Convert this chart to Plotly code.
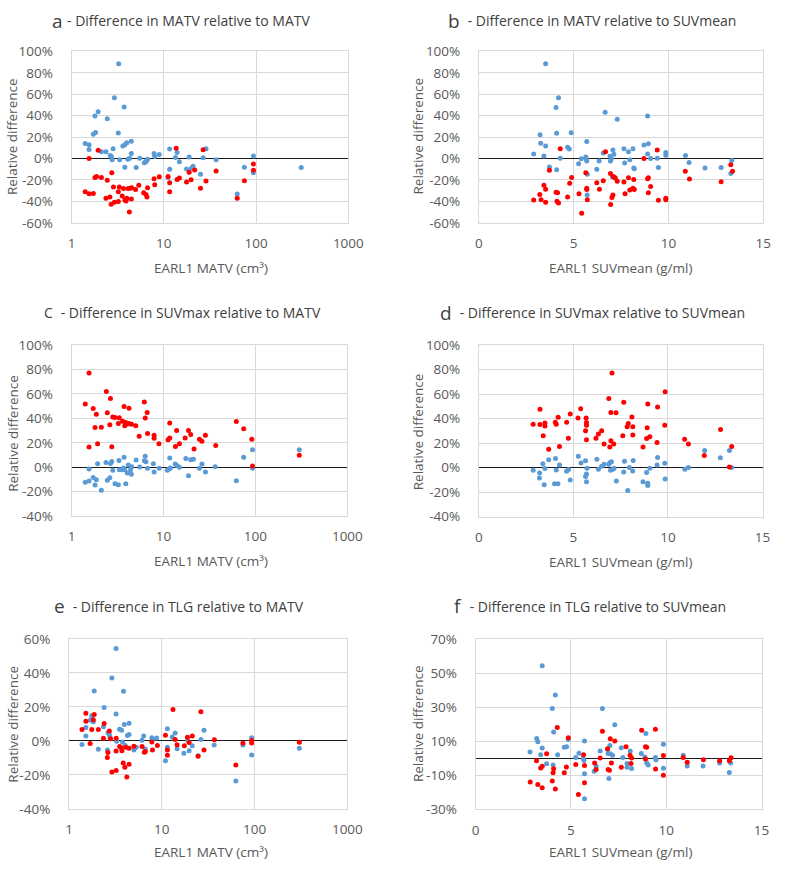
import plotly.graph_objects as go

BLUE = "#5B9BD5"
RED = "#FF0000"
FONT = "Open Sans"

# ---------------- Panel a : MATV difference vs EARL1 MATV ----------------
A_BLUE_X = [1.406, 1.549, 1.549, 1.722, 1.822, 1.793, 1.944, 2.108, 2.362, 2.440, 2.624, 2.711, 2.755, 2.823,
            2.916, 3.241, 3.214, 3.321, 3.600, 3.719, 3.780, 3.780, 3.969, 4.067, 4.269, 4.446, 4.446, 5.021,
            5.489, 6.147, 6.402, 6.560, 6.667, 7.843, 7.970, 8.928, 11.57, 11.57, 11.11, 13.39, 13.95, 14.76,
            17.64, 18.82, 19.92, 20.75, 25.0, 26.68, 28.69, 36.89, 62.5, 74.7, 93.7, 93.7, 308.7]
A_BLUE_Y = [14.0, 12.8, 8.5, 22.6, 24.4, 39.6, 43.6, 6.4, 6.4, 37.2, 2.7, 1.8, -1.2, 9.1, 56.7, 88.4, 23.8, -1.2,
            11.6, 48.2, 12.8, -8.2, 14.6, -0.6, 0.3, 16.2, 4.6, -8.5, 0.3, -4.0, -3.0, -1.5, -0.6, 4.6, 1.8, 3.7,
            8.8, -10.1, -17.7, 0.9, 5.5, -3.0, -9.8, 1.5, -9.1, -7.3, -14.6, 0.6, 9.1, -1.2, -33.2, -8.2, 2.4,
            -13.4, -8.5]
A_RED_X = [1.406, 1.549, 1.549, 1.722, 1.793, 1.867, 1.944, 2.108, 2.362, 2.440, 2.604, 2.689, 2.733, 2.846,
           2.916, 3.214, 3.214, 3.294, 3.542, 3.659, 3.780, 3.905, 3.969, 4.100, 4.304, 4.446, 4.482, 4.235,
           4.941, 5.357, 6.048, 6.402, 6.560, 6.667, 7.843, 7.970, 8.928, 11.11, 11.57, 11.57, 13.61, 13.95,
           14.76, 17.64, 18.82, 19.76, 21.60, 25.0, 26.68, 28.69, 36.89, 62.5, 74.7, 93.7, 93.7]
A_RED_Y = [-31.1, -32.9, 0.0, -32.6, -17.7, -16.8, 7.6, -17.7, -37.2, -20.4, -36.0, -42.7, -13.4, -26.5, -40.9,
           -40.2, -31.1, -26.5, -35.1, -28.0, -38.7, -39.6, -37.2, -28.0, -27.7, -37.8, -27.4, -50.0, -29.0,
           -25.0, -32.0, -33.5, -36.0, -27.4, -18.9, -24.4, -17.1, -16.8, -22.6, -31.1, 9.5, -19.5, -18.3,
           -22.0, -12.8, -19.8, -10.7, -27.7, 8.2, -21.0, -11.6, -37.2, -20.7, -5.2, -11.0]

# ---------------- Panel b : MATV difference vs EARL1 SUVmean ----------------
B_BLUE_X = [2.89, 3.23, 3.26, 3.52, 3.43, 3.52, 3.72, 4.07, 4.10, 4.10, 4.20, 4.29, 4.68, 4.77, 4.87, 5.26,
            5.40, 5.64, 5.67, 5.69, 5.69, 5.72, 5.71, 6.22, 6.34, 6.56, 6.66, 6.92, 6.94, 6.99, 7.04, 7.07,
            7.12, 7.18, 7.30, 7.65, 7.69, 7.89, 7.96, 8.13, 8.17, 8.20, 8.71, 8.90, 8.94, 8.90, 9.06, 9.41,
            9.47, 9.86, 9.86, 10.90, 11.09, 11.93, 12.78, 13.29, 13.34]
B_BLUE_Y = [4.3, 22.3, 14.3, 88.4, 2.4, 11.6, -7.9, 47.6, 23.5, -10.4, 56.7, 0.3, 10.4, 8.8, 24.1, -4.9, -0.3,
            1.5, -0.6, -2.4, 15.9, -14.6, -34.1, -10.1, -2.4, 5.2, 43.3, 2.1, -2.4, -0.3, -17.1, 7.9, 4.0,
            -17.7, 36.6, 9.1, -4.3, 6.4, -1.2, 9.1, -8.8, -9.5, 12.5, 39.6, 13.7, 4.3, 0.0, 0.3, -8.5, 5.5,
            3.0, 2.7, -3.7, -8.8, -8.5, -14.0, -1.8]
B_RED_X = [2.89, 3.21, 3.28, 3.43, 3.52, 3.52, 3.72, 4.07, 4.12, 4.20, 4.29, 4.15, 4.68, 4.79, 4.89, 5.28,
           5.42, 5.64, 5.69, 5.69, 5.72, 6.22, 6.36, 6.56, 6.68, 6.94, 6.95, 7.02, 7.07, 7.09, 7.19, 7.30,
           7.65, 7.71, 7.89, 7.96, 8.13, 8.17, 8.20, 8.71, 8.90, 8.94, 8.94, 9.06, 9.41, 9.47, 9.86, 9.86,
           10.89, 11.11, 12.78, 13.29, 13.38]
B_RED_Y = [-38.7, -33.5, -38.4, -25.0, -28.7, -40.9, -11.0, -31.4, -39.9, -41.5, 9.1, -32.0, -36.0, -23.2,
           -17.7, -32.9, -51.2, -13.4, -27.7, -29.0, -38.4, -22.6, -28.7, -20.7, 6.4, -14.0, -43.0, -36.3,
           -34.1, -16.8, -18.3, -21.3, -22.0, -32.9, -18.0, -29.3, -27.7, -19.5, -29.0, 0.0, -18.9, -18.0,
           -32.0, -26.2, 7.9, -39.0, -37.2, -38.4, -11.9, -19.2, -21.6, -5.8, -11.9]

# ---------------- Panel c : SUVmax difference vs EARL1 MATV ----------------
C_RED_X = [1.41, 1.55, 1.55, 1.72, 1.80, 1.86, 1.92, 2.11, 2.39, 2.45, 2.61, 2.65, 2.74, 2.81, 2.97, 3.23,
           3.31, 3.59, 3.73, 3.79, 3.89, 3.99, 4.22, 4.22, 4.50, 5.00, 5.44, 6.19, 6.33, 6.65, 6.71, 7.91,
           7.91, 8.92, 11.2, 11.7, 11.7, 13.5, 13.9, 14.9, 17.2, 18.7, 19.8, 21.5, 24.6, 26.2, 28.6, 37.0,
           62.0, 74.6, 91.4, 93.0, 300.0]
C_RED_Y = [51.8, 77.2, 16.5, 48.1, 32.5, 43.5, 19.2, 32.8, 62.0, 44.6, 34.7, 56.4, 16.8, 41.1, 40.8, 35.8,
           40.6, 37.6, 49.7, 33.9, 36.6, 35.2, 48.3, 35.8, 35.2, 33.9, 25.3, 53.4, 40.3, 44.9, 27.7, 26.1,
           23.7, 19.2, 22.4, 36.3, 24.0, 17.0, 30.1, 19.2, 24.0, 30.1, 26.9, 14.9, 22.9, 21.3, 26.1, 17.8,
           37.4, 31.5, 22.9, 1.0, 9.8]
C_BLUE_X = [1.41, 1.55, 1.55, 1.72, 1.80, 1.86, 1.92, 2.11, 2.37, 2.45, 2.61, 2.65, 2.74, 2.81, 2.97, 3.23,
            3.28, 3.31, 3.53, 3.67, 3.73, 3.79, 3.89, 4.05, 4.15, 4.39, 4.47, 4.50, 5.04, 5.51, 6.19, 6.33,
            6.44, 6.71, 7.76, 7.91, 8.98, 11.0, 11.5, 11.7, 11.9, 13.4, 14.1, 14.9, 17.5, 18.7, 19.8, 21.2,
            24.6, 26.2, 28.6, 36.5, 62.0, 74.6, 93.0, 93.0, 300.0]
C_BLUE_Y = [-12.4, -11.4, -1.4, -8.4, -14.6, -10.3, 2.8, -18.9, 3.9, -10.8, -8.7, 3.1, 4.7, -2.5, -13.5,
            -14.3, 5.5, -2.0, -2.0, -0.6, 8.2, -2.0, -13.5, -4.7, 1.8, -2.0, -5.7, 0.4, 5.8, 0.2, 5.2, 9.0,
            4.4, -0.9, 2.8, -3.9, -0.9, -2.5, -1.4, 7.6, -0.6, 2.6, 1.2, -0.1, 7.1, -7.1, 6.0, 6.6, -0.9,
            2.6, -3.9, 0.4, -11.1, 8.2, 14.3, -0.9, 14.3]

# ---------------- Panel d : SUVmax difference vs EARL1 SUVmean ----------------
D_RED_X = [2.87, 3.23, 3.23, 3.40, 3.49, 3.49, 3.69, 4.04, 4.09, 4.19, 4.26, 4.64, 4.73, 4.83, 5.24, 5.38,
           5.64, 5.67, 5.69, 5.69, 5.69, 6.19, 6.32, 6.49, 6.62, 6.87, 6.92, 6.98, 6.98, 7.04, 7.13, 7.25,
           7.61, 7.66, 7.84, 7.90, 8.09, 8.14, 8.14, 8.68, 8.87, 8.90, 8.93, 9.04, 9.42, 9.45, 9.83, 9.85,
           10.88, 11.08, 11.92, 12.78, 13.25, 13.37]
D_RED_Y = [35.5, 47.7, 35.2, 26.1, 36.5, 33.9, 14.9, 37.1, 35.5, 41.1, 17.3, 37.1, 24.0, 43.7, 40.5, 48.0,
           30.1, 40.5, 36.8, 34.7, 22.7, 24.0, 27.5, 30.1, 19.2, 56.5, 16.8, 45.1, 21.9, 77.3, 19.2, 44.8,
           26.1, 53.3, 33.3, 36.0, 41.3, 26.7, 33.3, 16.8, 23.7, 32.5, 52.0, 25.3, 20.5, 49.6, 34.7, 61.9,
           23.2, 19.2, 9.9, 31.2, 0.5, 17.3]
D_BLUE_X = [2.87, 3.21, 3.20, 3.38, 3.45, 3.49, 3.69, 4.00, 4.05, 4.09, 4.18, 4.26, 4.64, 4.74, 4.83, 5.26,
            5.40, 5.64, 5.64, 5.69, 5.69, 5.72, 6.24, 6.32, 6.49, 6.62, 6.87, 6.92, 6.96, 7.01, 7.08, 7.15,
            7.27, 7.66, 7.70, 7.87, 7.96, 8.13, 8.16, 8.68, 8.87, 8.93, 8.93, 9.04, 9.42, 9.45, 9.83, 9.85,
            10.89, 11.08, 11.94, 12.77, 13.25, 13.37]
D_BLUE_Y = [-2.1, -4.5, -8.5, 3.2, -14.1, -0.8, 6.4, -13.1, 7.5, -1.9, -13.1, 2.1, -2.9, -1.6, -10.1, 9.3,
            3.7, 5.6, -7.2, -5.3, -11.5, -0.5, 6.9, -1.3, 1.1, 2.7, 2.7, 4.0, -2.1, 4.8, -1.3, -0.5, -10.9,
            -3.5, 5.1, -18.7, 0.0, -2.7, 5.9, -11.5, -4.0, -12.8, -14.7, -0.5, 2.1, 8.3, 3.5, -9.3, -1.3,
            0.0, 13.9, 8.0, 13.9, 0.0]

# ---------------- Panel e : TLG difference vs EARL1 MATV ----------------
E_BLUE_X = [1.38, 1.52, 1.52, 1.69, 1.76, 1.83, 1.87, 2.07, 2.35, 2.39, 2.59, 2.63, 2.72, 2.76, 2.90, 3.22,
            3.22, 3.27, 3.51, 3.69, 3.78, 3.87, 3.94, 4.03, 4.26, 4.44, 4.44, 5.01, 5.30, 6.13, 6.38, 6.64,
            7.81, 7.94, 8.81, 10.95, 11.49, 11.49, 12.94, 13.93, 14.62, 17.3, 19.1, 19.7, 21.3, 24.7, 26.4,
            28.5, 36.7, 62.8, 74.9, 93.0, 93.0, 304.0]
E_BLUE_Y = [-2.1, 7.9, 2.9, 12.1, 14.8, 11.2, 29.4, -5.0, 8.3, 19.6, -5.4, 4.8, 3.7, 2.3, 37.1, 54.4, 15.8,
            -0.2, 6.9, 6.3, -0.6, 29.2, 9.6, -2.7, 3.1, 10.4, 3.7, -5.4, -3.7, 0.4, 2.9, -4.8, 1.9, 1.0, 1.7,
            -11.7, 7.1, -3.8, 2.3, 4.6, -4.6, -7.3, 0.4, -5.8, -2.9, -8.8, 0.8, 6.3, -2.5, -23.7, -2.5, 1.9,
            -8.3, -4.4]
E_RED_X = [1.38, 1.52, 1.52, 1.69, 1.76, 1.87, 1.83, 2.07, 2.35, 2.39, 2.59, 2.63, 2.72, 2.80, 2.90, 3.22,
           3.22, 3.22, 3.51, 3.66, 3.72, 3.84, 4.00, 4.20, 4.10, 4.44, 4.44, 5.01, 6.13, 6.49, 6.64, 7.81,
           7.94, 8.96, 10.95, 11.49, 11.49, 13.2, 13.93, 14.62, 17.5, 18.9, 19.7, 21.3, 24.6, 26.4, 28.5,
           36.9, 62.8, 74.9, 93.0, 93.0, 304.0]
E_RED_Y = [6.7, 16.2, 11.5, -1.5, 6.7, 15.6, 12.5, 6.7, 1.5, 10.2, -9.8, -6.9, 5.8, 1.3, -18.3, -17.5, 1.5,
           -6.0, -3.3, -4.0, -5.8, -13.1, -15.6, -21.2, -3.8, -13.8, -4.4, -3.1, -3.3, -6.7, -6.3, -0.6,
           -5.4, -2.7, 3.3, -8.5, -5.4, 18.5, 0.8, -2.3, -2.9, 2.1, -1.0, 2.9, -9.0, 17.1, -5.4, 0.6, -14.2,
           -1.3, 0.2, -1.3, -0.8]

# ---------------- Panel f : TLG difference vs EARL1 SUVmean ----------------
F_BLUE_X = [2.85, 3.20, 3.26, 3.41, 3.49, 3.49, 3.72, 4.02, 4.06, 4.09, 4.18, 4.30, 4.65, 4.77, 4.86, 5.25,
            5.42, 5.64, 5.68, 5.71, 5.71, 5.71, 6.22, 6.32, 6.53, 6.65, 6.92, 6.95, 6.99, 7.04, 7.07, 7.18,
            7.30, 7.64, 7.72, 7.94, 7.94, 8.11, 8.18, 8.69, 8.88, 8.93, 8.97, 9.05, 9.43, 9.46, 9.85, 9.85,
            10.89, 11.10, 11.93, 12.80, 13.31, 13.38]
F_BLUE_Y = [3.7, 11.6, 9.7, 2.0, 6.0, 54.3, -3.2, 29.2, -3.9, 15.4, 37.2, 2.0, 6.4, 6.8, 11.0, 0.5, 2.9,
            -0.1, -1.3, 10.2, -9.1, -23.7, -7.6, -4.7, 4.3, 29.2, 5.1, 2.8, -11.8, 7.5, 2.6, 1.8, 19.6, 6.2,
            0.5, -3.0, -5.3, 4.3, -6.0, 2.8, 0.7, 14.6, -2.6, -3.9, 0.5, -0.9, 8.3, -5.9, 1.8, -4.5, -4.5,
            -2.8, -8.4, -2.8]
F_RED_X = [2.86, 3.19, 3.26, 3.41, 3.49, 3.49, 3.72, 4.02, 4.06, 4.09, 4.18, 4.28, 4.65, 4.76, 4.86, 5.25,
           5.39, 5.66, 5.71, 5.71, 6.24, 6.32, 6.53, 6.65, 6.92, 6.95, 7.02, 7.06, 7.12, 7.30, 7.64, 7.89,
           8.10, 8.15, 8.18, 8.71, 8.91, 8.97, 8.91, 9.44, 9.43, 9.85, 9.85, 10.89, 11.10, 11.95, 12.80,
           13.31, 13.40]
F_RED_Y = [-13.9, -1.4, -15.4, -5.7, -4.7, -17.3, 2.6, -13.3, -8.5, -6.1, -18.1, 18.1, -8.5, -5.1, 12.1,
           -3.6, -21.3, 2.0, -4.3, -14.3, -2.8, -6.6, 0.1, 15.8, 5.6, -6.6, -7.0, 11.4, -2.8, 10.2, -5.3,
           6.8, 1.8, -3.0, 0.1, 16.4, 6.8, 6.4, -0.5, -6.3, 17.1, 1.6, -9.9, 0.5, -2.4, -0.9, -1.5, -1.5, 0.3]

# ---------------- Axis ticks / texts ----------------
LOG_TICKS = [1, 10, 100, 1000]
LOG_TICKTEXT = ["1", "10", "100", "1000"]
LIN_TICKS = [0, 5, 10, 15]
LIN_TICKTEXT = ["0", "5", "10", "15"]
Y_TICKS_AB = [-60, -40, -20, 0, 20, 40, 60, 80, 100]
Y_TICKTEXT_AB = ["-60%", "-40%", "-20%", "0%", "20%", "40%", "60%", "80%", "100%"]
Y_TICKS_CD = [-40, -20, 0, 20, 40, 60, 80, 100]
Y_TICKTEXT_CD = ["-40%", "-20%", "0%", "20%", "40%", "60%", "80%", "100%"]
Y_TICKS_E = [-40, -20, 0, 20, 40, 60]
Y_TICKTEXT_E = ["-40%", "-20%", "0%", "20%", "40%", "60%"]
Y_TICKS_F = [-30, -10, 10, 30, 50, 70]
Y_TICKTEXT_F = ["-30%", "-10%", "10%", "30%", "50%", "70%"]

TITLE_LETTERS = ["a", "b", "C", "d", "e", "f"]
TITLE_TEXTS = [
    "- Difference in MATV relative to MATV",
    " - Difference in MATV relative to SUVmean",
    " - Difference in SUVmax relative to MATV",
    " - Difference in SUVmax relative to SUVmean",
    " - Difference in TLG relative to MATV",
    " - Difference in TLG relative to SUVmean",
]
X_TITLE_MATV = "EARL1 MATV (cm³)"
X_TITLE_SUV = "EARL1 SUVmean (g/ml)"
Y_TITLE = "Relative difference"

W, H = 787, 870


def px(x):
    return x / W


def py(y):
    return 1 - y / H


# panel layout (pixel boxes: left, right, top, bottom)
panels = [
    dict(blue=(A_BLUE_X, A_BLUE_Y), red=(A_RED_X, A_RED_Y), log=True, yr=[-60, 100],
         yt=(Y_TICKS_AB, Y_TICKTEXT_AB), box=(69.3, 353.3, 43.3, 218.3)),
    dict(blue=(B_BLUE_X, B_BLUE_Y), red=(B_RED_X, B_RED_Y), log=False, yr=[-60, 100],
         yt=(Y_TICKS_AB, Y_TICKTEXT_AB), box=(487.3, 779.0, 43.3, 218.3)),
    dict(blue=(C_BLUE_X, C_BLUE_Y), red=(C_RED_X, C_RED_Y), log=True, yr=[-40, 100],
         yt=(Y_TICKS_CD, Y_TICKTEXT_CD), box=(69.3, 352.3, 343.3, 517.7)),
    dict(blue=(D_BLUE_X, D_BLUE_Y), red=(D_RED_X, D_RED_Y), log=False, yr=[-40, 100],
         yt=(Y_TICKS_CD, Y_TICKTEXT_CD), box=(487.3, 778.3, 343.3, 518.3)),
    dict(blue=(E_BLUE_X, E_BLUE_Y), red=(E_RED_X, E_RED_Y), log=True, yr=[-40, 60],
         yt=(Y_TICKS_E, Y_TICKTEXT_E), box=(66.7, 352.3, 643.3, 816.7)),
    dict(blue=(F_BLUE_X, F_BLUE_Y), red=(F_RED_X, F_RED_Y), log=False, yr=[-30, 70],
         yt=(Y_TICKS_F, Y_TICKTEXT_F), box=(484.0, 777.3, 643.3, 817.3)),
]

# title letter (right edge, font size), title centre y ; axis-title centres (pixels)
letter_pos = [(63, 19), (470, 19), (52, 14), (462, 19), (65, 19), (472, 19)]
title_y = [12, 12, 310, 310, 610, 610]
ytitle_pos = [(9, 130), (425, 130), (9, 433), (425, 432), (9, 730), (425, 730)]
xtitle_pos = [(212, 264), (633, 264), (212, 564), (633, 565), (212, 861), (633, 861)]

fig = go.Figure()
layout = dict(
    width=W, height=H, autosize=False,
    margin=dict(l=0, r=0, t=0, b=0),
    paper_bgcolor="white", plot_bgcolor="white",
    showlegend=False,
    font=dict(family=FONT, color="#595959"),
)
annotations = []
tickfont = dict(family=FONT, size=13.5, color="#595959")

for i, p in enumerate(panels):
    n = "" if i == 0 else str(i + 1)
    xa, ya = "x" + n, "y" + n
    l, r, t, b = p["box"]
    xaxis = dict(
        domain=[px(l), px(r)], anchor=ya,
        showgrid=True, gridcolor="#D9D9D9", gridwidth=1,
        showline=True, linecolor="#D9D9D9", linewidth=1, mirror=True,
        zeroline=False, ticks="", tickfont=tickfont, ticklabelstandoff=8,
        fixedrange=True,
    )
    if p["log"]:
        xaxis.update(type="log", range=[0, 3], tickvals=LOG_TICKS, ticktext=LOG_TICKTEXT)
    else:
        xaxis.update(type="linear", range=[0, 15], tickvals=LIN_TICKS, ticktext=LIN_TICKTEXT)
    yaxis = dict(
        domain=[py(b), py(t)], anchor=xa,
        range=p["yr"], tickvals=p["yt"][0], ticktext=p["yt"][1],
        showgrid=True, gridcolor="#D9D9D9", gridwidth=1,
        showline=True, linecolor="#D9D9D9", linewidth=1, mirror=True,
        zeroline=True, zerolinecolor="#1A1A1A", zerolinewidth=1.3,
        ticks="", tickfont=tickfont, ticklabelstandoff=15,
        fixedrange=True,
    )
    layout["xaxis" + n] = xaxis
    layout["yaxis" + n] = yaxis

    for (xs, ys), col in ((p["blue"], BLUE), (p["red"], RED)):
        fig.add_trace(go.Scatter(
            x=xs, y=ys, mode="markers", xaxis=xa, yaxis=ya,
            marker=dict(color=col, size=5, line=dict(width=0)),
            hoverinfo="x+y",
        ))

    lx, lsize = letter_pos[i]
    annotations.append(dict(
        xref="paper", yref="paper", x=px(lx), y=py(title_y[i]), xanchor="right", yanchor="middle",
        text=TITLE_LETTERS[i], showarrow=False,
        font=dict(family=FONT, size=lsize, color="#404040"),
    ))
    annotations.append(dict(
        xref="paper", yref="paper", x=px(lx), y=py(title_y[i]), xanchor="left", yanchor="middle",
        text=TITLE_TEXTS[i], showarrow=False,
        font=dict(family=FONT, size=14, color="#404040"),
    ))
    yx, yy = ytitle_pos[i]
    annotations.append(dict(
        xref="paper", yref="paper", x=px(yx), y=py(yy), xanchor="center", yanchor="middle",
        text=Y_TITLE, textangle=-90, showarrow=False,
        font=dict(family=FONT, size=13.5, color="#595959"),
    ))
    xx, xy = xtitle_pos[i]
    annotations.append(dict(
        xref="paper", yref="paper", x=px(xx), y=py(xy), xanchor="center", yanchor="middle",
        text=X_TITLE_MATV if p["log"] else X_TITLE_SUV, showarrow=False,
        font=dict(family=FONT, size=13.5, color="#595959"),
    ))

layout["annotations"] = annotations
fig.update_layout(**layout)
# remove the browser's default body margin so the 787x870 figure fills the window exactly
fig.write_html(
    "out.html",
    config=dict(displayModeBar=False),
    post_script="document.body.style.margin='0';document.body.style.overflow='hidden';",
)
